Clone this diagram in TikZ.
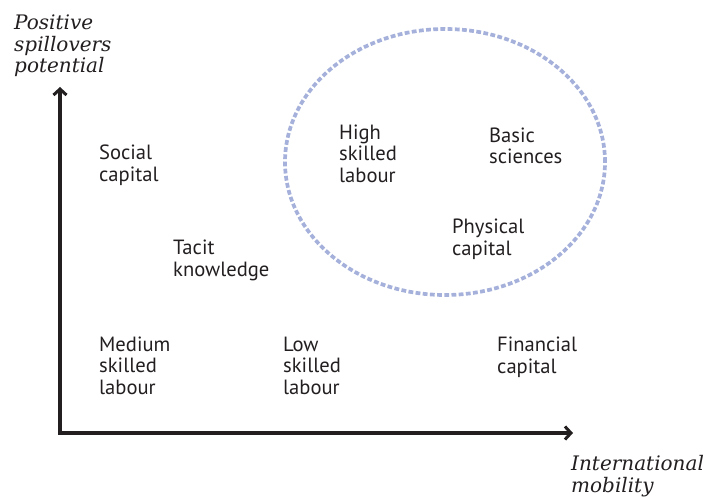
\documentclass[tikz,border=0pt]{standalone}
\usepackage{fontspec}
\setmainfont{PT Sans}
\newfontfamily\axisfont{DejaVu Serif}
\usetikzlibrary{arrows.meta,shapes.geometric}
\definecolor{txt}{RGB}{35,31,32}
\definecolor{ellblue}{RGB}{165,177,218}
\tikzset{
  item/.style={anchor=base west, inner sep=0pt, align=left, text=txt,
    font=\fontsize{20.6}{21.5}\selectfont},
  axlabel/.style={anchor=base west, inner sep=0pt, align=left, text=txt,
    font=\axisfont\itshape\fontsize{20}{21.5}\selectfont},
  axis/.style={line width=3.2pt, draw=txt, -{Straight Barb[length=6pt,width=13pt,line width=3pt]}},
  cluster/.style={draw=ellblue, line width=3.7pt, dash pattern=on 4.8pt off 2.4pt}
}
\begin{document}
\begin{tikzpicture}[x=1pt,y=-1pt]
\useasboundingbox (0,0) rectangle (708,497);
\coordinate (origin) at (60,433);
\coordinate (ytip) at (60,87);
\coordinate (xtip) at (573,433);
\draw[axis] ([yshift=-1.6pt]origin) -- (ytip);
\draw[axis] ([xshift=-1.6pt]origin) -- (xtip);
\node[cluster, ellipse, minimum width=320pt, minimum height=266pt, inner sep=0pt] (club) at (445,162) {};
\node[axlabel] (ylab) at (14,73) {Positive\\spillovers\\potential};
\node[axlabel] (xlab) at (571,492) {International\\mobility};
\node[item] (social) at (99,181) {Social\\capital};
\node[item] (tacit) at (173,276) {Tacit\\knowledge};
\node[item] (medium) at (99,394) {Medium\\skilled\\labour};
\node[item] (low) at (283,394) {Low\\skilled\\labour};
\node[item] (fin) at (497,373) {Financial\\capital};
\node[item] (high) at (339,182) {High\\skilled\\labour};
\node[item] (basic) at (489,164) {Basic\\sciences};
\node[item] (phys) at (452,255) {Physical\\capital};
\end{tikzpicture}
\end{document}
